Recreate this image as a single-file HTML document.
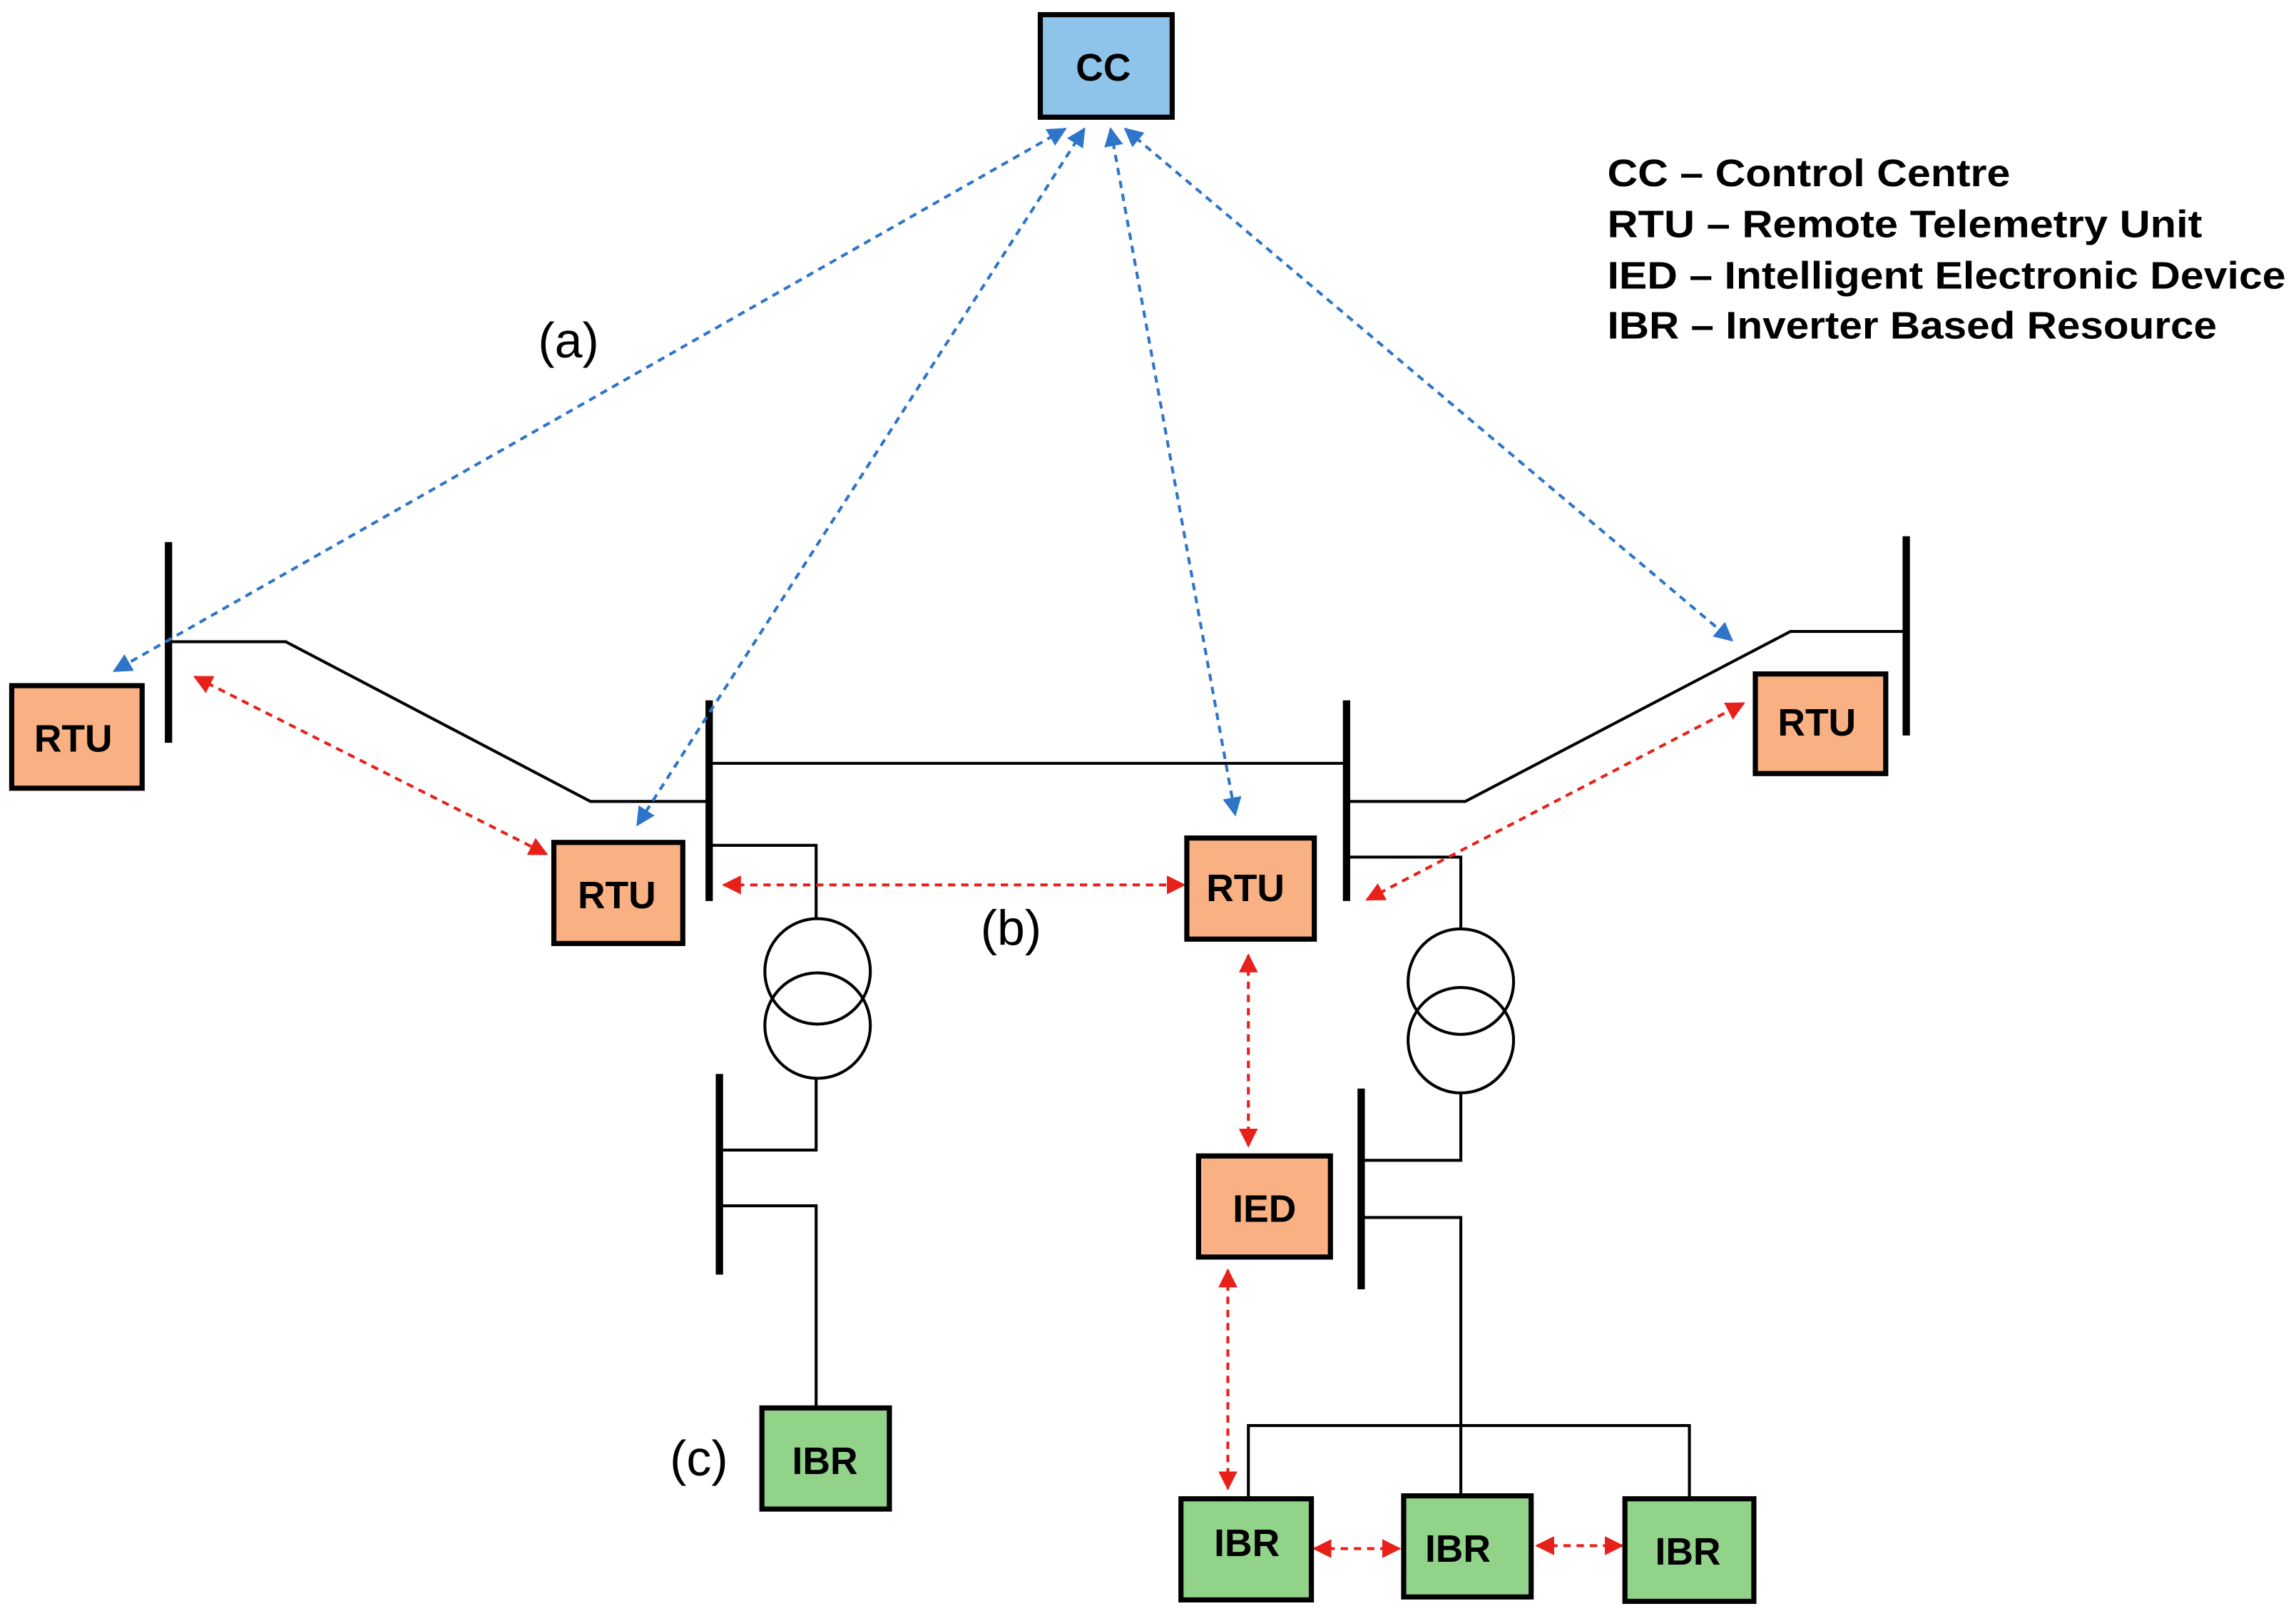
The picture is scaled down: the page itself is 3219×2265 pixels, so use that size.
<!DOCTYPE html>
<html><head><meta charset="utf-8"><style>
html,body{margin:0;padding:0;background:#fff;}
svg{display:block;}
text{font-family:"Liberation Sans",sans-serif;}
</style></head><body>
<svg width="3219" height="2265" viewBox="0 0 1567 1103" preserveAspectRatio="none" xmlns="http://www.w3.org/2000/svg">
<defs>
<marker id="ab" viewBox="0 0 10 10" refX="9" refY="5" markerWidth="6.5" markerHeight="6.5" orient="auto-start-reverse"><path d="M0,0L10,5L0,10z" fill="#2E75C8"/></marker>
<marker id="ar" viewBox="0 0 10 10" refX="9" refY="5" markerWidth="6.5" markerHeight="6.5" orient="auto-start-reverse"><path d="M0,0L10,5L0,10z" fill="#E8201A"/></marker>
</defs>
<g stroke="#000" stroke-width="2" fill="none">
<polyline points="115,438 195,438 403,547 484,547"/>
<line x1="484" y1="521" x2="919" y2="521"/>
<polyline points="919,547 1000,547 1222,431 1301,431"/>
<polyline points="484,577 557,577 557,628"/>
<circle cx="558" cy="663" r="36"/><circle cx="558" cy="700" r="36"/>
<polyline points="557,736 557,785 491,785"/>
<polyline points="491,823 557,823 557,961"/>
<polyline points="919,585 997,585 997,635"/>
<circle cx="997" cy="670" r="36"/><circle cx="997" cy="710" r="36"/>
<polyline points="997,746 997,792 929,792"/>
<polyline points="929,831 997,831 997,1021"/>
<polyline points="852,1023 852,973 1153,973 1153,1023"/>
</g>
<g stroke="#000" stroke-width="5">
<line x1="115" y1="370" x2="115" y2="507"/>
<line x1="484" y1="478" x2="484" y2="615"/>
<line x1="919" y1="478" x2="919" y2="615"/>
<line x1="1301" y1="366" x2="1301" y2="502"/>
<line x1="491" y1="733" x2="491" y2="870"/>
<line x1="929" y1="743" x2="929" y2="880"/>
</g>
<g stroke="#2E75C8" stroke-width="2" stroke-dasharray="5,4" marker-start="url(#ab)" marker-end="url(#ab)">
<line x1="727" y1="88" x2="78" y2="458"/>
<line x1="740" y1="88" x2="435" y2="563"/>
<line x1="758" y1="88" x2="843" y2="556"/>
<line x1="768" y1="88" x2="1182" y2="437"/>
</g>
<g stroke="#E8201A" stroke-width="2" stroke-dasharray="5,4" marker-start="url(#ar)" marker-end="url(#ar)">
<line x1="133" y1="462" x2="373" y2="583"/>
<line x1="494" y1="604" x2="808" y2="604"/>
<line x1="852" y1="652" x2="852" y2="782"/>
<line x1="933" y1="614" x2="1190" y2="480"/>
<line x1="838" y1="867" x2="838" y2="1016"/>
<line x1="897" y1="1057" x2="955" y2="1057"/>
<line x1="1049" y1="1055" x2="1107" y2="1055"/>
</g>
<g stroke="#000" stroke-width="3.5">
<rect x="710" y="10" width="90" height="70" fill="#8EC4EA"/>
<rect x="8" y="468" width="89" height="70" fill="#F9B183"/>
<rect x="378" y="575" width="88" height="69" fill="#F9B183"/>
<rect x="810" y="572" width="87" height="69" fill="#F9B183"/>
<rect x="1198" y="460" width="89" height="68" fill="#F9B183"/>
<rect x="818" y="789" width="90" height="69" fill="#F9B183"/>
<rect x="520" y="961" width="87" height="69" fill="#92D38A"/>
<rect x="806" y="1023" width="89" height="69" fill="#92D38A"/>
<rect x="958" y="1021" width="87" height="69" fill="#92D38A"/>
<rect x="1109" y="1023" width="88" height="70" fill="#92D38A"/>
</g>
<g font-size="26" font-weight="bold" text-anchor="middle" fill="#000">
<text x="753" y="55">CC</text>
<text x="50" y="513">RTU</text>
<text x="421" y="620">RTU</text>
<text x="850" y="615">RTU</text>
<text x="1240" y="502">RTU</text>
<text x="863" y="834">IED</text>
<text x="563" y="1006">IBR</text>
<text x="851" y="1062">IBR</text>
<text x="995" y="1066">IBR</text>
<text x="1152" y="1068">IBR</text>
</g>
<g font-size="34" text-anchor="middle">
<text x="388" y="244">(a)</text>
<text x="690" y="645">(b)</text>
<text x="477" y="1007">(c)</text>
</g>
<g font-size="26" font-weight="bold" lengthAdjust="spacingAndGlyphs">
<text x="1097" y="127" textLength="275" lengthAdjust="spacingAndGlyphs">CC – Control Centre</text>
<text x="1097" y="162" textLength="406" lengthAdjust="spacingAndGlyphs">RTU – Remote Telemetry Unit</text>
<text x="1097" y="197" textLength="463" lengthAdjust="spacingAndGlyphs">IED – Intelligent Electronic Device</text>
<text x="1097" y="231" textLength="416" lengthAdjust="spacingAndGlyphs">IBR – Inverter Based Resource</text>
</g>
</svg>
</body></html>
